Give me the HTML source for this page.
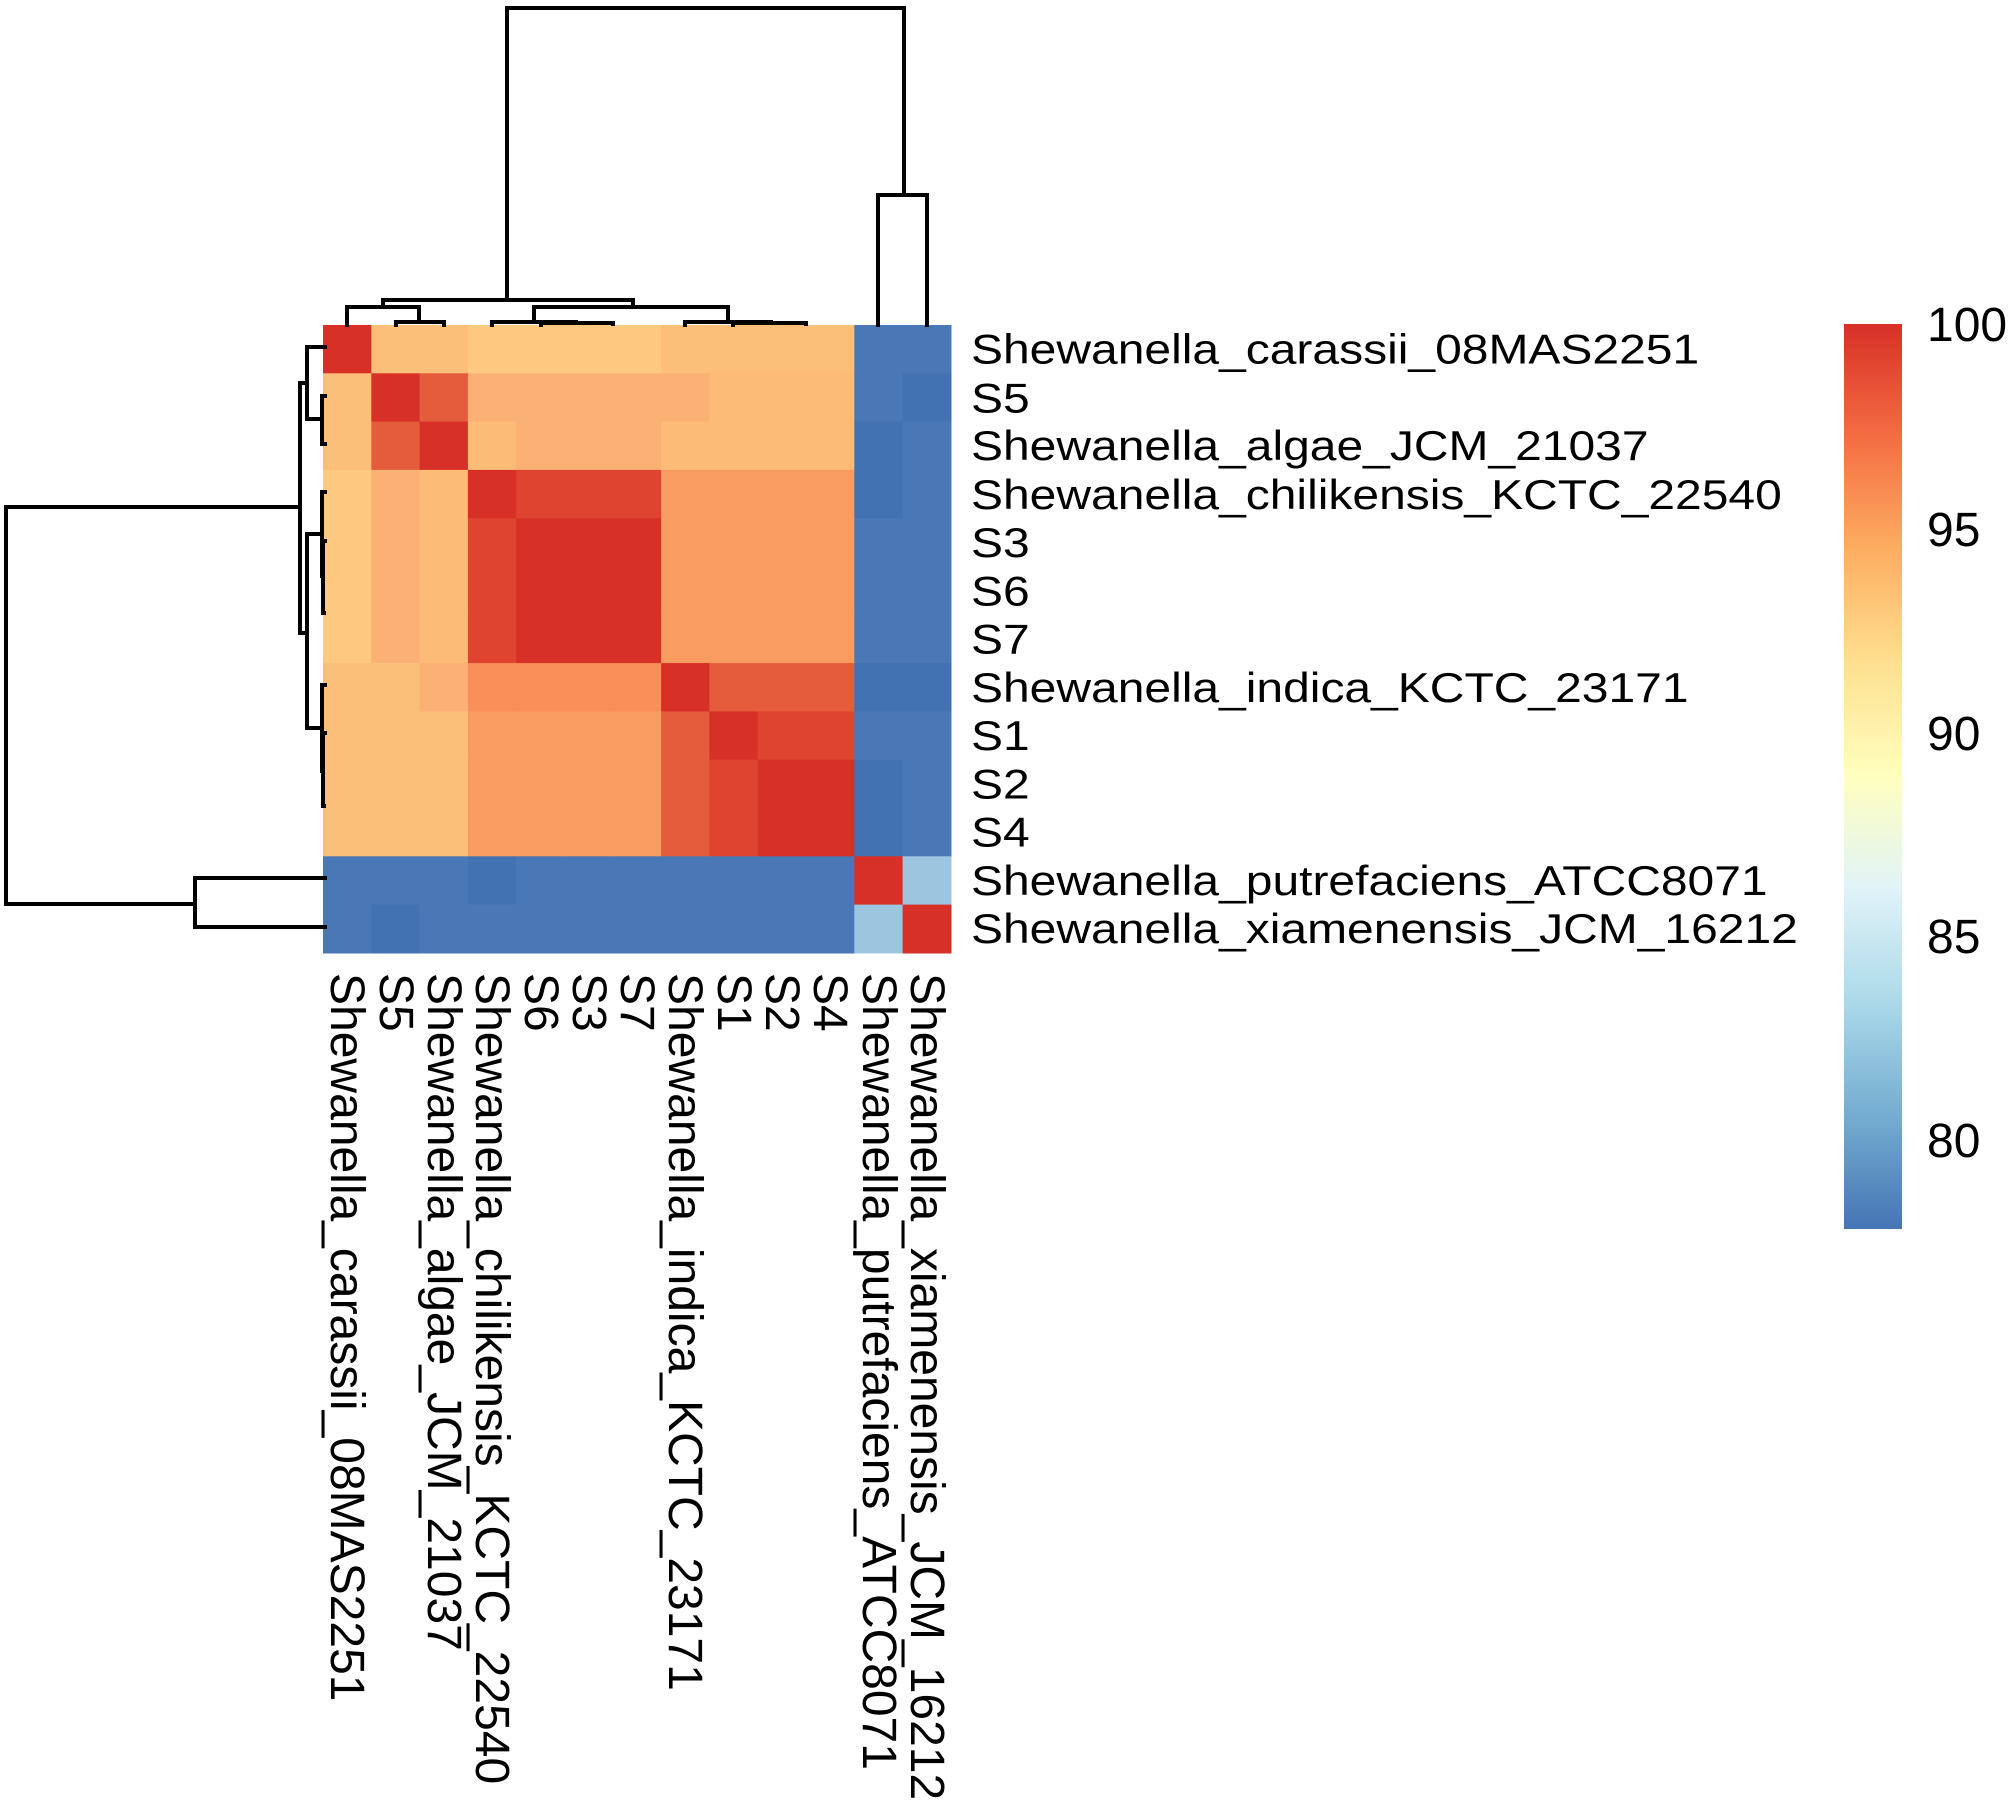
<!DOCTYPE html>
<html><head><meta charset="utf-8"><style>
html,body{margin:0;padding:0;background:#fff;}
svg{display:block;}
text{font-family:"Liberation Sans",Arial,sans-serif;fill:#000;}
</style></head><body>
<svg width="2008" height="1803" viewBox="0 0 2008 1803" xmlns="http://www.w3.org/2000/svg">
<defs>
<linearGradient id="cb" x1="0" y1="1" x2="0" y2="0">
<stop offset="0" stop-color="#4575b4"/>
<stop offset="0.125" stop-color="#74add1"/>
<stop offset="0.25" stop-color="#abd9e9"/>
<stop offset="0.375" stop-color="#e0f3f8"/>
<stop offset="0.5" stop-color="#ffffbf"/>
<stop offset="0.625" stop-color="#fee090"/>
<stop offset="0.75" stop-color="#fdae61"/>
<stop offset="0.875" stop-color="#f46d43"/>
<stop offset="1" stop-color="#d73027"/>
</linearGradient>
</defs>
<g id="cells"></g>
<script>
(function(){
var C={R:"#d73027",RR:"#e55c3c",R2:"#df4430",Y1:"#fdc980",Y2:"#fcbf79",Y3:"#fbb173",Y4:"#fcbb77",O:"#f99c62",O2:"#f98f59",B:"#4a78b6",B2:"#4372b3",LB:"#9cc6e0"};
var rows=[
"R Y2 Y2 Y1 Y1 Y1 Y1 Y2 Y2 Y2 Y2 B B",
"Y2 R RR Y3 Y3 Y3 Y3 Y3 Y4 Y4 Y4 B B2",
"Y2 RR R Y4 Y3 Y3 Y3 Y4 Y4 Y4 Y4 B2 B",
"Y1 Y3 Y4 R R2 R2 R2 O O O O B2 B",
"Y1 Y3 Y4 R2 R R R O O O O B B",
"Y1 Y3 Y4 R2 R R R O O O O B B",
"Y1 Y3 Y4 R2 R R R O O O O B B",
"Y2 Y2 Y3 O2 O2 O2 O2 R RR RR RR B2 B2",
"Y2 Y2 Y2 O O O O RR R R2 R2 B B",
"Y2 Y2 Y2 O O O O RR R2 R R B2 B",
"Y2 Y2 Y2 O O O O RR R2 R R B2 B",
"B B B B2 B B B B B B B R LB",
"B B2 B B B B B B B B B LB R"];
var g=document.getElementById("cells"),ns="http://www.w3.org/2000/svg",s=48.3;
rows.forEach(function(r,i){r.split(" ").forEach(function(k,j){
var e=document.createElementNS(ns,"rect");
e.setAttribute("x",(323+s*j).toFixed(1));e.setAttribute("y",(325+s*i).toFixed(1));
e.setAttribute("width",s+0.6);e.setAttribute("height",s+0.6);e.setAttribute("fill",C[k]);g.appendChild(e);});});
})();
</script>
<g stroke="#000" stroke-width="4" fill="none" stroke-linecap="square">
<!-- top dendrogram -->
<path d="M507 300 V8 H904 V195"/>
<path d="M878 325 V195 H927 V325"/>
<path d="M383 307 V300 H633 V307"/>
<path d="M347 325 V307 H419 V322"/>
<path d="M396 325 V322 H444 V325"/>
<path d="M534 322 V307 H728 V322"/>
<path d="M492 325 V322 H576 V323"/>
<path d="M541 325 V323 H613 V324"/>
<path d="M685 325 V322 H771 V323"/>
<path d="M733 325 V323 H806 V324"/>
<!-- left dendrogram -->
<path d="M300 507 H6 V904 H195"/>
<path d="M325 878 H195 V927 H325"/>
<path d="M307 383 H300 V633 H307"/>
<path d="M325 347 H307 V419 H322"/>
<path d="M325 396 H322 V444 H325"/>
<path d="M322 534 H307 V728 H322"/>
<path d="M325 492 H322 V576 H323"/>
<path d="M325 541 H323 V613 H324"/>
<path d="M325 685 H322 V771 H323"/>
<path d="M325 733 H323 V806 H324"/>
</g>
<g font-size="48" transform="translate(971,0)">
<g transform="scale(1,0.87)">
<text x="0" y="418">Shewanella_carassii_08MAS2251</text>
<text x="0" y="474">S5</text>
<text x="0" y="529">Shewanella_algae_JCM_21037</text>
<text x="0" y="585">Shewanella_chilikensis_KCTC_22540</text>
<text x="0" y="640">S3</text>
<text x="0" y="696">S6</text>
<text x="0" y="751">S7</text>
<text x="0" y="807">Shewanella_indica_KCTC_23171</text>
<text x="0" y="862">S1</text>
<text x="0" y="918">S2</text>
<text x="0" y="973">S4</text>
<text x="0" y="1029">Shewanella_putrefaciens_ATCC8071</text>
<text x="0" y="1084">Shewanella_xiamenensis_JCM_16212</text>
</g>
</g>
<g font-size="48">
<text transform="translate(331,973) rotate(90)">Shewanella_carassii_08MAS2251</text>
<text transform="translate(380,973) rotate(90)">S5</text>
<text transform="translate(428,973) rotate(90)">Shewanella_algae_JCM_21037</text>
<text transform="translate(476,973) rotate(90)">Shewanella_chilikensis_KCTC_22540</text>
<text transform="translate(525,973) rotate(90)">S6</text>
<text transform="translate(573,973) rotate(90)">S3</text>
<text transform="translate(621,973) rotate(90)">S7</text>
<text transform="translate(669,973) rotate(90)">Shewanella_indica_KCTC_23171</text>
<text transform="translate(718,973) rotate(90)">S1</text>
<text transform="translate(766,973) rotate(90)">S2</text>
<text transform="translate(814,973) rotate(90)">S4</text>
<text transform="translate(863,973) rotate(90)">Shewanella_putrefaciens_ATCC8071</text>
<text transform="translate(911,973) rotate(90)">Shewanella_xiamenensis_JCM_16212</text>
</g>
<rect x="1844" y="324" width="58" height="905" fill="url(#cb)"/>
<g font-size="48">
<text x="1927" y="341">100</text>
<text x="1927" y="546">95</text>
<text x="1927" y="750">90</text>
<text x="1927" y="953">85</text>
<text x="1927" y="1157">80</text>
</g>
</svg>
</body></html>
